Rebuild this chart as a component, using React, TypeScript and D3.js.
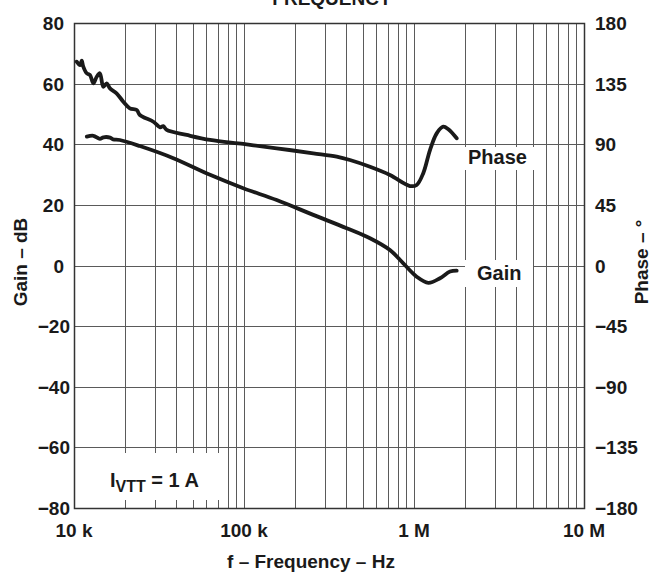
import React from "react";
import * as d3 from "d3";

const gainFreq = [11.9e3, 13.0e3, 14.2e3, 14.9e3, 16.3e3, 17.0e3, 18.6e3, 24.4e3, 38.4e3, 63.1e3, 99e3, 155.7e3, 255.6e3, 401.8e3, 551e3, 722e3, 865e3, 1.037e6, 1.214e6, 1.422e6, 1.629e6, 1.783e6];
const gainDb = [42.5, 42.8, 41.8, 42.3, 42.2, 41.6, 41.4, 39.4, 35.4, 29.9, 25.5, 21.6, 16.7, 12.3, 9.0, 5.1, 0.7, -3.7, -5.7, -4.2, -2.0, -1.7];

const phaseFreq = [10.37e3, 10.85e3, 11.1e3, 11.34e3, 11.88e3, 12.42e3, 12.99e3, 13.6e3, 14.2e3, 14.87e3, 15.57e3, 16.28e3, 17.8e3, 19.5e3, 21.3e3, 23.4e3, 24.4e3, 29.3e3, 32.1e3, 33.5e3, 35.1e3, 46e3, 63.1e3, 99e3, 155.7e3, 255.6e3, 351e3, 420e3, 551e3, 722e3, 947e3, 1.037e6, 1.135e6, 1.242e6, 1.36e6, 1.486e6, 1.592e6, 1.783e6];
const phaseDeg = [151.3, 148.8, 152.0, 147.6, 142.7, 141.4, 135.2, 140.1, 142.7, 132.7, 135.2, 131.5, 127.8, 121.6, 116.7, 115.4, 111.7, 106.7, 102.6, 103.5, 100.6, 96.9, 93.2, 90.2, 87.0, 83.3, 80.8, 78.3, 73.3, 67.2, 59.0, 59.8, 68.7, 85.7, 98.1, 103.0, 101.1, 94.4];

const gainTicks = [80, 60, 40, 20, 0, -20, -40, -60, -80];
const phaseTicks = [180, 135, 90, 45, 0, -45, -90, -135, -180];
const freqTicks = [1e4, 1e5, 1e6, 1e7];
const freqTickLabels = ["10 k", "100 k", "1 M", "10 M"];

const L = 74, R = 584, T = 23, B = 508;
const FONT = "'Liberation Sans', Arial, sans-serif";

const fmt = (t: number) => (t < 0 ? "\u2212" + Math.abs(t) : String(t));
const crisp = (v: number) => Math.round(v) + 0.5;

export default function App() {
  const x = d3.scaleLog().domain([1e4, 1e7]).range([L, R]);
  const yG = d3.scaleLinear().domain([-80, 80]).range([B, T]);
  const yP = d3.scaleLinear().domain([-180, 180]).range([B, T]);

  const minor: number[] = [];
  for (let dec = 1e4; dec < 1e7; dec *= 10) {
    for (let k = 2; k <= 9; k++) minor.push(dec * k);
  }

  const gainLine = d3.line<number>().x((_, i) => x(gainFreq[i])).y((d) => yG(d)).curve(d3.curveCatmullRom);
  const phaseLine = d3.line<number>().x((_, i) => x(phaseFreq[i])).y((d) => yP(d)).curve(d3.curveCatmullRom);

  const grid = "#5a5a5a";
  return (
    <svg width={652} height={576} style={{ position: "absolute", left: 0, top: 0 }} fontFamily={FONT} fontWeight="bold" fill="#1a1a1a">
      <rect x={0} y={0} width={652} height={576} fill="#fff" />
      <text x={332} y={5} textAnchor="middle" fontSize={19}>FREQUENCY</text>
      {/* grid */}
      {gainTicks.map((t) => (
        <line key={"h" + t} x1={L} x2={R} y1={crisp(yG(t))} y2={crisp(yG(t))} stroke={grid} strokeWidth={1} />
      ))}
      {[...minor, ...freqTicks].map((f) => (
        <line key={"v" + f} x1={crisp(x(f))} x2={crisp(x(f))} y1={T} y2={B} stroke={grid} strokeWidth={1} />
      ))}
      {/* label boxes */}
      <rect x={110} y={453} width={114} height={47} fill="#fff" />
      <rect x={462} y={147} width={73} height={23} fill="#fff" />
      <rect x={465} y={260} width={68} height={27} fill="#fff" />
      <rect x={L + 0.5} y={T + 0.5} width={R - L} height={B - T} fill="none" stroke="#333" strokeWidth={1.5} />
      {/* curves */}
      <path d={phaseLine(phaseDeg) || ""} fill="none" stroke="#1a1a1a" strokeWidth={3.8} strokeLinejoin="round" strokeLinecap="round" />
      <path d={gainLine(gainDb) || ""} fill="none" stroke="#1a1a1a" strokeWidth={3.8} strokeLinejoin="round" strokeLinecap="round" />
      {/* labels */}
      <text x={468} y={164} fontSize={20}>Phase</text>
      <text x={477} y={280} fontSize={20}>Gain</text>
      <text x={110} y={487} fontSize={20}>
        I<tspan fontSize={16} dy={5}>VTT</tspan>
        <tspan dy={-5}> = 1 A</tspan>
      </text>
      {/* left ticks */}
      {gainTicks.map((t) => (
        <text key={"lg" + t} x={t < 0 ? 70 : 64} y={yG(t) + 7} textAnchor="end" fontSize={19}>
          {fmt(t)}
        </text>
      ))}
      {phaseTicks.map((t) => (
        <text key={"rp" + t} x={595} y={yP(t) + 7} textAnchor="start" fontSize={19}>
          {fmt(t)}
        </text>
      ))}
      {freqTicks.map((f, i) => (
        <text key={"bx" + f} x={x(f)} y={537} textAnchor="middle" fontSize={19}>
          {freqTickLabels[i]}
        </text>
      ))}
      <text x={311} y={568} textAnchor="middle" fontSize={19}>f – Frequency – Hz</text>
      <text transform={`translate(27,262) rotate(-90)`} textAnchor="middle" fontSize={19}>Gain – dB</text>
      <text transform={`translate(648,262) rotate(-90)`} textAnchor="middle" fontSize={19}>Phase – °</text>
    </svg>
  );
}
